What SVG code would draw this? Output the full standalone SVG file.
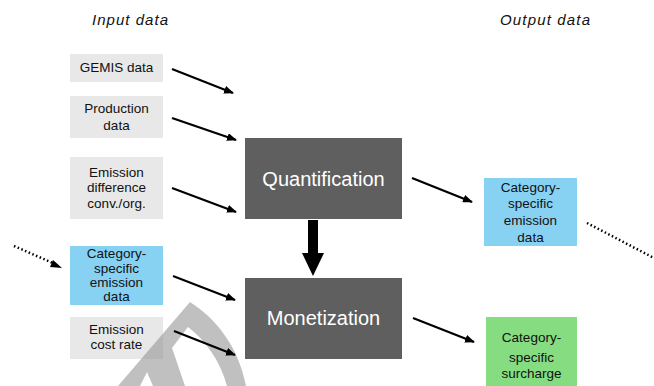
<svg xmlns="http://www.w3.org/2000/svg" width="654" height="386" viewBox="0 0 654 386">
<defs>
<marker id="ah" markerWidth="10" markerHeight="8" refX="9" refY="4" orient="auto" markerUnits="userSpaceOnUse">
<path d="M0,0 L10,4 L0,8 Z" fill="#000"/>
</marker>
<style>
.in{fill:#e8e8e8}
.blue{fill:#87d1f3}
.green{fill:#86dc80}
.dark{fill:#5f5f5f}
.t{font-family:"Liberation Sans",Arial,sans-serif;font-size:13.5px;fill:#111;text-anchor:middle}
.big{font-family:"Liberation Sans",Arial,sans-serif;font-size:20px;fill:#fff;text-anchor:middle}
.hd{font-family:"Liberation Sans",Arial,sans-serif;font-size:15px;font-style:italic;fill:#111;text-anchor:middle}
.ar{stroke:#000;stroke-width:2.2;fill:none;marker-end:url(#ah)}
.dot{stroke:#000;stroke-width:2.5;fill:none;stroke-dasharray:1.5 2.5;stroke-linecap:butt}
</style>
</defs>
<rect width="654" height="386" fill="#fff"/>
<text class="hd" x="130" y="25" textLength="76">Input data</text>
<text class="hd" x="545" y="25" textLength="90">Output data</text>

<g id="gemis"><rect class="in" x="70" y="54" width="93" height="28"/><text class="t" x="116.5" y="72">GEMIS data</text></g>
<g id="production"><rect class="in" x="70" y="96" width="93" height="42"/><text class="t" x="116.5" y="113">Production</text><text class="t" x="116.5" y="130">data</text></g>
<g id="emdiff"><rect class="in" x="70" y="157" width="93" height="62"/><text class="t" x="116.5" y="177">Emission</text><text class="t" x="116.5" y="192">difference</text><text class="t" x="116.5" y="208">conv./org.</text></g>
<g id="catin"><rect class="blue" x="70" y="246" width="93" height="59"/><text class="t" x="116.5" y="258">Category-</text><text class="t" x="116.5" y="273">specific</text><text class="t" x="116.5" y="287">emission</text><text class="t" x="116.5" y="301">data</text></g>
<g id="costrate"><rect class="in" x="70" y="317" width="93" height="42"/><text class="t" x="116.5" y="334">Emission</text><text class="t" x="116.5" y="349">cost rate</text></g>
<g id="quant"><rect class="dark" x="245" y="138" width="157" height="81"/><text class="big" x="323.5" y="186">Quantification</text></g>
<g id="monet"><rect class="dark" x="245" y="278" width="157" height="81"/><text class="big" x="323.5" y="325">Monetization</text></g>
<g id="catout"><rect class="blue" x="484" y="178" width="93" height="68"/><text class="t" x="530.5" y="192">Category-</text><text class="t" x="530.5" y="208">specific</text><text class="t" x="530.5" y="225">emission</text><text class="t" x="530.5" y="242">data</text></g>
<g id="surcharge"><rect class="green" x="486" y="317" width="91" height="70"/><text class="t" x="531.5" y="342">Category-</text><text class="t" x="531.5" y="362">specific</text><text class="t" x="531.5" y="378">surcharge</text></g>

<path d="M118,386 L190,302 C215,318 238,345 246,386 Z M172,348 L188,327 C205,340 220,360 227,386 L185,386 Z M140,386 L147,372 L153,386 Z" fill="#8c8c8c" fill-opacity="0.55" fill-rule="evenodd"/>

<g id="connectors">
<line class="ar" x1="172" y1="69" x2="233" y2="93"/>
<line class="ar" x1="172" y1="118" x2="236" y2="140"/>
<line class="ar" x1="172" y1="188" x2="236" y2="212"/>
<line class="ar" x1="173" y1="276" x2="235" y2="300"/>
<line class="ar" x1="174" y1="331" x2="235" y2="355"/>
<line class="ar" x1="412" y1="178" x2="472" y2="202"/>
<line class="ar" x1="413" y1="318" x2="474" y2="342"/>
<rect x="308" y="220" width="10" height="34" fill="#000"/>
<path d="M302,253 L324,253 L313,276 Z" fill="#000"/>
<line class="dot" x1="14" y1="246" x2="55" y2="264"/>
<path d="M53,260 L62,268 L50,267 Z" fill="#000"/>
<line class="dot" x1="587" y1="223" x2="654" y2="258"/>
</g>
</svg>
